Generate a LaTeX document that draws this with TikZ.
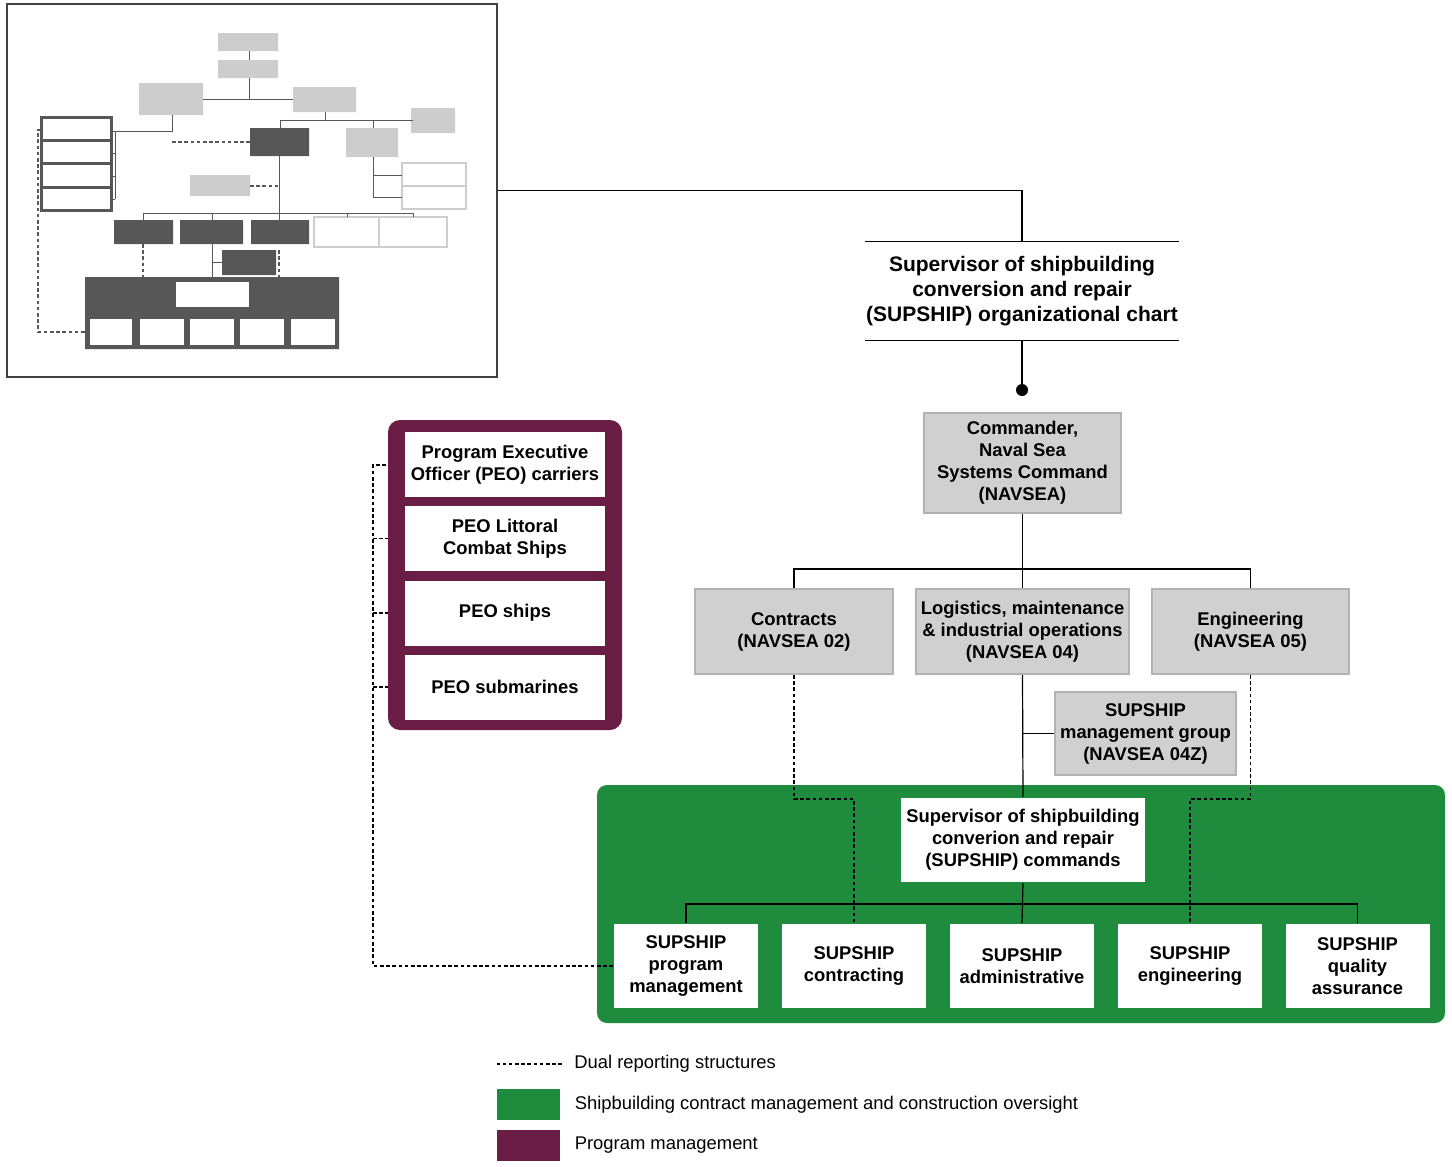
\documentclass[tikz,border=0pt]{standalone}
\usepackage{fontspec}
\setmainfont{Liberation Sans}
\usetikzlibrary{positioning}

\definecolor{navgray}{HTML}{D0D0D0}
\definecolor{navedge}{HTML}{B2B2B2}
\definecolor{shipgreen}{HTML}{1E8B3D}
\definecolor{peopurple}{HTML}{6A1E46}
\definecolor{thumbdark}{HTML}{575757}
\definecolor{thumblight}{HTML}{CDCDCD}

\tikzset{
  orgbox/.style={rectangle, fill=navgray, draw=navedge, line width=1pt,
    align=center, inner sep=0pt,
    font=\bfseries\fontsize{9.2}{11}\selectfont},
  unitbox/.style={orgbox, fill=white, draw=none},
  link/.style={line width=0.6pt},
  dual/.style={line width=0.55pt, dash pattern=on 1.8pt off 1.3pt},
  legtext/.style={inner sep=0pt, font=\fontsize{9.2}{11}\selectfont},
}

\begin{document}
\begin{tikzpicture}[x=0.5pt,y=-0.5pt]
  \useasboundingbox (0,0) rectangle (1452,1167);

  % small overview chart
  \node[draw=black!75, line width=0.8pt, minimum width=245pt, minimum height=186.5pt] (thumb) at (252,190.5) {};
  \begin{scope}[line width=0.5pt, draw=thumbdark]
    \fill[thumblight] (218,33) rectangle (278,51) (218,60) rectangle (278,78)
      (139,83) rectangle (203,115) (293,87) rectangle (356,112)
      (411,108) rectangle (455,133) (346,128) rectangle (398,157)
      (190,175) rectangle (250,196);
    \fill[thumbdark] (250,128) rectangle (309,156) (114,220) rectangle (173,244)
      (180,220) rectangle (243,244) (251,220) rectangle (309,244)
      (222,250) rectangle (276,275) (85,277) rectangle (339,349);
    \fill[white] (176,282) rectangle (249,307);
    \foreach \xa/\xb in {90/132,140/184,190/234,240/284,291/335}
      \fill[white] (\xa,319) rectangle (\xb,345);
    \draw[thumblight, line width=1.2pt] (314,217) rectangle (379,247) (379,217) rectangle (447,247)
      (402,163) rectangle (466,186) (402,186) rectangle (466,209);
    \draw[line width=1.5pt] (41,117) rectangle (111,210);
    \foreach \ya in {140,163,187}
      \draw[line width=1.5pt] (41,\ya) -- (111,\ya);
    \draw (249,51) -- (249,60) (249,78) -- (249,99) (203,99) -- (293,99)
      (172,115) -- (172,131) -- (111,131)
      (325,112) -- (325,120) (280,120) -- (413,120) (280,120) -- (280,128) (373,120) -- (373,128)
      (373,157) -- (373,197) -- (402,197) (373,175) -- (402,175)
      (279,156) -- (279,220) (143,213) -- (413,213)
      (143,213) -- (143,220) (212,213) -- (212,220) (347,213) -- (347,217) (413,213) -- (413,217)
      (212,244) -- (212,282) (212,262) -- (222,262)
      (115,131) -- (115,199);
    \foreach \ya in {131,153,176,199}
      \draw (111,\ya) -- (115,\ya);
    \draw[dual] (172,142) -- (250,142) (250,186) -- (279,186)
      (143,244) -- (143,277) (279,250) -- (279,277)
      (41,130) -- (38,130) -- (38,332) -- (85,332);
  \end{scope}

  % NAVSEA chain
  \node[minimum width=156.5pt, minimum height=49pt, align=center, inner sep=0pt,
    font=\bfseries\fontsize{10.5}{12.5}\selectfont] (title) at (1022,291)
    {Supervisor of shipbuilding\\conversion and repair\\(SUPSHIP) organizational chart};
  \node[circle, fill=black, inner sep=0pt, minimum size=6pt] (dot) at (1022,390) {};

  \begin{scope}[every node/.style={orgbox, minimum height=42.5pt}]
    \node[minimum width=98.5pt, minimum height=50pt] (navsea) at (1022.5,463)
      {Commander,\\Naval Sea\\Systems Command\\(NAVSEA)};
    \node[minimum width=99pt] (contracts) at (794,631.5) {Contracts\\(NAVSEA 02)};
    \node[minimum width=106.5pt] (logis) at (1022.5,631.5)
      {Logistics, maintenance\\\& industrial operations\\(NAVSEA 04)};
    \node[minimum width=98.5pt] (engin) at (1250.5,631.5) {Engineering\\(NAVSEA 05)};
    \node[minimum width=90.5pt, minimum height=41.5pt] (mgmt) at (1145.5,733.5)
      {SUPSHIP\\management group\\(NAVSEA 04Z)};
  \end{scope}

  % program executive offices
  \node[fill=peopurple, rounded corners=6pt, minimum width=117pt, minimum height=155pt] (peoframe) at (505,575) {};
  \begin{scope}[every node/.style={unitbox, minimum width=100pt, minimum height=32.5pt}]
    \node (peo1) at (505,464.5) {Program Executive\\Officer (PEO) carriers};
    \node (peo2) at (505,538.5) {PEO Littoral\\Combat Ships};
    \node (peo3) at (505,613) {PEO ships};
    \node (peo4) at (505,687) {PEO submarines};
  \end{scope}

  % SUPSHIP commands
  \node[fill=shipgreen, rounded corners=5pt, minimum width=424pt, minimum height=119pt] (greenframe) at (1021,904) {};
  \begin{scope}[every node/.style={unitbox, minimum width=72pt, minimum height=42pt}]
    \node[minimum width=122pt] (cmds) at (1023,840)
      {Supervisor of shipbuilding\\converion and repair\\(SUPSHIP) commands};
    \node (pm) at (686,966) {SUPSHIP\\program\\management};
    \node (contr) at (854,966) {SUPSHIP\\contracting};
    \node (admin) at (1022,966) {SUPSHIP\\administrative};
    \node (eng) at (1190,966) {SUPSHIP\\engineering};
    \node (qa) at (1357.5,966) {SUPSHIP\\quality\\assurance};
  \end{scope}

  % solid reporting lines
  \begin{scope}[link]
    \draw (thumb.east) -| (title.north);
    \draw (title.north west) -- (title.north east);
    \draw (title.south west) -- (title.south east);
    \draw (title.south) -- (dot);
    \draw (navsea.south) -- (logis.north);
    \draw (contracts.north) -- ++(0,-19) -| (engin.north);
    \draw (logis.south) -- (cmds.north);
    \draw (mgmt.west) -- ++(-32.5,0);
    \draw (cmds.south) -- (admin.north);
    \draw (pm.north) -- ++(0,-19) -| (qa.north);
  \end{scope}

  % dual reporting lines
  \coordinate (spine) at (373,465);
  \draw[dual] (contracts.south) -- ++(0,124) -| (contr.north);
  \draw[dual] (engin.south) -- ++(0,124) -| (eng.north);
  \draw[dual] (pm.west) -| (spine) -- (spine -| peoframe.west);
  \foreach \n in {peo2,peo3,peo4}
    \draw[dual] (spine |- \n) -- (peoframe.west |- \n);

  % legend
  \node[legtext, anchor=west] (legdual) at (574,1064) {Dual reporting structures};
  \coordinate (legdash) at (562,1064);
  \draw[dual] (legdash) -- ++(-65,0);
  \node[fill=shipgreen, minimum width=31.5pt, minimum height=15.5pt, inner sep=0pt] (leggreen) at (528.5,1104.5) {};
  \node[legtext, right=7pt of leggreen] (legship) {Shipbuilding contract management and construction oversight};
  \node[fill=peopurple, minimum width=31.5pt, minimum height=15.5pt, inner sep=0pt] (legpurple) at (528.5,1145.5) {};
  \node[legtext, right=7pt of legpurple] (legprog) {Program management};

\end{tikzpicture}
\end{document}
